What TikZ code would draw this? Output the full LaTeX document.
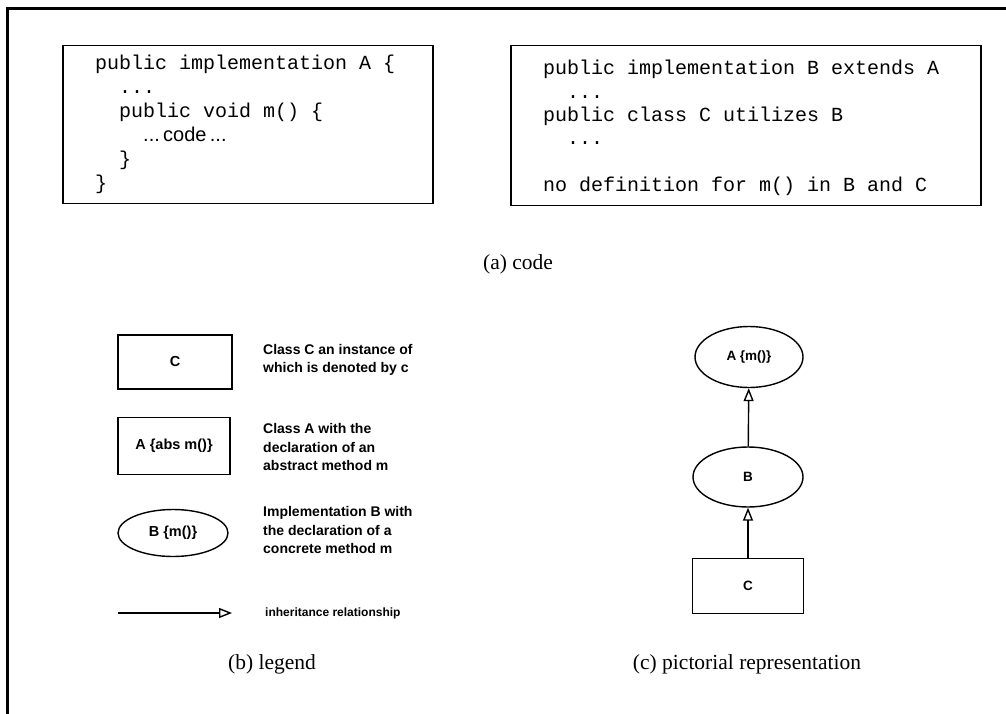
\documentclass[tikz,border=0pt]{standalone}
\usepackage{fontspec}
\setmainfont{Liberation Serif}
\newfontfamily\codefont{Liberation Mono}
\newfontfamily\labelfont{Liberation Sans}
\usetikzlibrary{arrows.meta,shapes.geometric}

\tikzset{
  codebox/.style={draw, line width=1.5pt, inner sep=0pt},
  codetext/.style={anchor=north west, inner sep=0pt, align=left, font=\codefont\fontsize{20}{24}\selectfont},
  classbox/.style={draw, line width=1.4pt, inner sep=0pt, font=\labelfont\bfseries\fontsize{14.5}{17}\selectfont},
  implnode/.style={draw, ellipse, line width=1.4pt, inner sep=0pt, font=\labelfont\bfseries\fontsize{14.5}{17}\selectfont},
  note/.style={anchor=west, inner sep=0pt, align=left, font=\labelfont\bfseries\fontsize{14}{18.5}\selectfont},
  caption/.style={inner sep=0pt, font=\fontsize{21.5}{24}\selectfont},
  inherit/.style={line width=1.4pt, -{Triangle[open, length=13pt, width=10pt, line width=1.4pt]}},
}

\begin{document}
\begin{tikzpicture}[x=1pt, y=-1pt]
  \useasboundingbox (0,0) rectangle (1006,714);

  % page frame (top and left edges)
  \draw[line width=3pt] (1006,9) -- (7,9) -- (7,714);

  % (a) code
  \node[codebox, minimum width=370, minimum height=158, anchor=north west] (codeA) at (62,45) {};
  \node[codetext] (codeAtext) at (95,55) {%
public implementation A \{\\
\ \ ...\\
\ \ public void m() \{\\
\ \ \ \ {\labelfont ...\,code\,...}\\
\ \ \}\\
\}};

  \node[codebox, minimum width=470, minimum height=160, anchor=north west] (codeB) at (510,45) {};
  \node[codetext, font=\codefont\fontsize{20}{23.4}\selectfont] (codeBtext) at (543,60) {%
public implementation B extends A\\
\ \ ...\\
public class C utilizes B\\
\ \ ...\\[23.4pt]
no definition for m() in B and C};

  \node[caption] (capA) at (518,264) {(a) code};

  % (b) legend
  \node[classbox, minimum width=114, minimum height=54] (legC) at (175,362) {C};
  \node[note] (legCtext) at (263,360) {Class C an instance of\\which is denoted by c};

  \node[classbox, minimum width=112, minimum height=57] (legA) at (174,446) {A \{abs m()\}};
  \node[note] (legAtext) at (263,447) {Class A with the\\declaration of an\\abstract method m};

  \node[implnode, minimum width=110, minimum height=47] (legB) at (173,533) {B \{m()\}};
  \node[note] (legBtext) at (263,530) {Implementation B with\\the declaration of a\\concrete method m};

  \coordinate (arrS) at (118,613);
  \coordinate (arrE) at (232,613);
  \draw[inherit, line width=1.8pt] (arrS) -- (arrE);
  \node[note, font=\labelfont\bfseries\fontsize{12}{14}\selectfont] (legI) at (265,613) {inheritance relationship};

  \node[caption] (capB) at (272,664) {(b) legend};

  % (c) pictorial representation
  \node[implnode, font=\labelfont\bfseries\fontsize{13.5}{16}\selectfont, minimum width=108, minimum height=61] (A) at (749,357) {A \{m()\}};
  \node[implnode, font=\labelfont\bfseries\fontsize{13.5}{16}\selectfont, minimum width=110, minimum height=60] (B) at (748,477) {B};
  \node[classbox, font=\labelfont\bfseries\fontsize{13.5}{16}\selectfont, minimum width=111, minimum height=55] (C) at (748,586) {C};
  \draw[inherit] (B) -- (A);
  \draw[inherit] (C) -- (B);

  \node[caption] (capC) at (747,664) {(c) pictorial representation};
\end{tikzpicture}
\end{document}
